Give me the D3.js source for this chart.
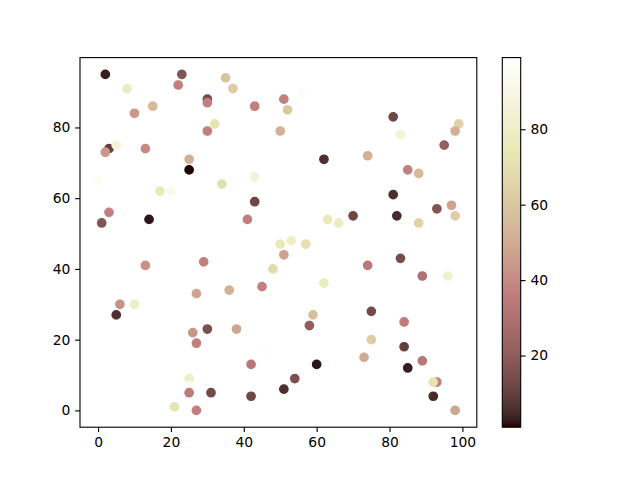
<!DOCTYPE html>
<html>
<head>
<meta charset="utf-8">
<script src="https://cdn.jsdelivr.net/npm/d3@7"></script>
<style>
  html, body { margin: 0; padding: 0; background: #fff; }
  svg { display: block; }
  text { font-family: "DejaVu Sans", sans-serif; }
</style>
</head>
<body>
<script>
// ---- data ----
const xs = [2,23,35,8,22,37,30,30,43,51,10,15,32,30,50,3,5,2,13,25,25,0,43,34,17,20,43,3,1,14,29,41,50,56,52,81,83,99,98,95,62,74,85,88,81,97,93,98,70,82,88,63,66,53,57,13,29,51,48,45,36,27,6,10,5,30,26,38,27,46,42,25,25,25,31,42,21,27,51,62,74,83,89,96,59,58,75,84,75,73,84,60,85,89,54,93,92,92,98];
const ys = [95,95,94,91,92,91,88,87,86,88,84,86,81,79,79,74,75,73,74,71,68,65,66,64,62,62,59,56,53,54,54,54,47,90,85,83,78,81,79,75,71,72,68,67,61,58,57,55,55,55,53,54,53,48,47,41,42,44,40,35,34,33,30,30,27,23,22,23,19,17,13,9,7,5,5,4,1,0,6,36,41,43,38,38,27,24,28,25,20,15,18,13,12,14,9,8,8,4,0];
const cs = [3,17,58,78,37,62,13,37,37,37,44,55,72,37,52,10,86,44,40,52,1,95,86,70,75,92,12,37,17,2,99,37,75,97,60,12,85,65,52,21,6,52,37,55,6,47,17,62,12,5,65,75,78,80,70,42,37,47,68,37,52,48,42,80,6,15,43,48,37,97,33,80,95,35,13,12,72,37,6,78,34,14,30,82,57,21,13,36,62,50,10,2,3,33,15,37,72,5,48];
const xTicks = [0,20,40,60,80,100];
const yTicks = [0,20,40,60,80];
const cTicks = [20,40,60,80];

// ---- matplotlib "pink" colormap: sqrt((2*gray + hot)/3) ----
function hot(t) {
  const r = t < 0.365079 ? 0.0416 + (1 - 0.0416) * t / 0.365079 : 1;
  const g = t < 0.365079 ? 0 : (t < 0.746032 ? (t - 0.365079) / (0.746032 - 0.365079) : 1);
  const b = t < 0.746032 ? 0 : (t - 0.746032) / (1 - 0.746032);
  return [r, g, b];
}
function pink(t) {
  t = Math.max(0, Math.min(1, t));
  const h = hot(t);
  const c = h.map(v => Math.round(255 * Math.sqrt((2 * t + v) / 3)));
  return `rgb(${c[0]},${c[1]},${c[2]})`;
}

const W = 640, H = 480;
const ax = {left: 80, right: 476.8, top: 57.6, bottom: 427.2};
const cb = {left: 502.3, right: 520.7, top: 57.6, bottom: 427.2};
const pt = 100 / 72;

const svg = d3.select("body").append("svg").attr("width", W).attr("height", H);

const xmin = d3.min(xs), xmax = d3.max(xs), ymin = d3.min(ys), ymax = d3.max(ys);
const xpad = (xmax - xmin) * 0.05, ypad = (ymax - ymin) * 0.05;
const x = d3.scaleLinear().domain([xmin - xpad, xmax + xpad]).range([ax.left, ax.right]);
const y = d3.scaleLinear().domain([ymin - ypad, ymax + ypad]).range([ax.bottom, ax.top]);
const cmin = d3.min(cs), cmax = d3.max(cs);
const cnorm = d3.scaleLinear().domain([cmin, cmax]).range([0, 1]);

// points
const pts = d3.range(xs.length).map(i => ({x: xs[i], y: ys[i], c: cs[i]}));
svg.append("g").selectAll("circle").data(pts).join("circle")
  .attr("cx", d => x(d.x)).attr("cy", d => y(d.y))
  .attr("r", 3 * pt)
  .attr("fill", d => pink(cnorm(d.c)))
  .attr("stroke", d => pink(cnorm(d.c)))
  .attr("stroke-width", 1 * pt);

// axes
const tl = 3.5 * pt;
const xa = svg.append("g").attr("transform", `translate(0,${ax.bottom})`)
  .call(d3.axisBottom(x).tickValues(xTicks).tickFormat(d3.format("d")).tickSize(tl).tickPadding(3.5 * pt).tickSizeOuter(0));
const ya = svg.append("g").attr("transform", `translate(${ax.left},0)`)
  .call(d3.axisLeft(y).tickValues(yTicks).tickFormat(d3.format("d")).tickSize(tl).tickPadding(3.5 * pt).tickSizeOuter(0));
[xa, ya].forEach(a => {
  a.select(".domain").remove();
  a.selectAll("line").attr("stroke", "#000").attr("stroke-width", 0.8 * pt);
  a.selectAll("text").attr("font-size", 10 * pt).attr("fill", "#000").attr("font-family", "DejaVu Sans, sans-serif");
});
svg.append("rect").attr("x", ax.left).attr("y", ax.top)
  .attr("width", ax.right - ax.left).attr("height", ax.bottom - ax.top)
  .attr("fill", "none").attr("stroke", "#000").attr("stroke-width", 0.8 * pt);

// colorbar
const cy = d3.scaleLinear().domain([cmin, cmax]).range([cb.bottom, cb.top]);
const defs = svg.append("defs");
const grad = defs.append("linearGradient").attr("id", "cbg")
  .attr("x1", 0).attr("y1", 1).attr("x2", 0).attr("y2", 0);
d3.range(0, 1.0001, 1 / 64).forEach(t => {
  grad.append("stop").attr("offset", t).attr("stop-color", pink(t));
});
svg.append("rect").attr("x", cb.left).attr("y", cb.top)
  .attr("width", cb.right - cb.left).attr("height", cb.bottom - cb.top)
  .attr("fill", "url(#cbg)");
const ca = svg.append("g").attr("transform", `translate(${cb.right},0)`)
  .call(d3.axisRight(cy).tickValues(cTicks).tickFormat(d3.format("d")).tickSize(tl).tickPadding(3.5 * pt).tickSizeOuter(0));
ca.select(".domain").remove();
ca.selectAll("line").attr("stroke", "#000").attr("stroke-width", 0.8 * pt);
ca.selectAll("text").attr("font-size", 10 * pt).attr("fill", "#000").attr("font-family", "DejaVu Sans, sans-serif");
svg.append("rect").attr("x", cb.left).attr("y", cb.top)
  .attr("width", cb.right - cb.left).attr("height", cb.bottom - cb.top)
  .attr("fill", "none").attr("stroke", "#000").attr("stroke-width", 0.8 * pt);
</script>
</body>
</html>
